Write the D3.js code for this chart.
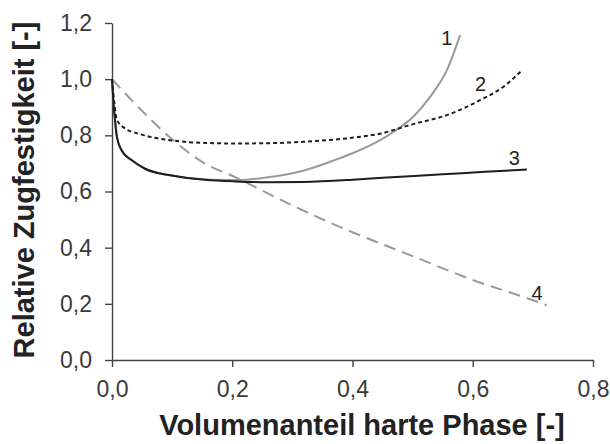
<!DOCTYPE html>
<meta charset="utf-8">
<style>
    body { margin: 0; background: #fff; }
    .axis path, .axis line { stroke: #444; stroke-width: 1.4px; }
    .axis text { font-family: "Liberation Sans", Arial, sans-serif; font-size: 23px; fill: #3a3a3a; }
    .title { font-family: "Liberation Sans", Arial, sans-serif; font-size: 29px; font-weight: bold; fill: #222; }
    .lbl { font-family: "Liberation Sans", Arial, sans-serif; font-size: 20px; fill: #222; }
</style>
<svg width="610" height="444"></svg>
<script src="https://d3js.org/d3.v7.min.js"></script>
<script>

    // x = Volumenanteil harte Phase, y = relative Zugfestigkeit
    var curve1 = [[0,1.0],[0.002,0.93],[0.005,0.855],[0.008,0.8],[0.016,0.748],[0.033,0.711],[0.055,0.681],[0.099,0.657],[0.155,0.643],[0.213,0.641],[0.25,0.648],[0.313,0.671],[0.368,0.71],[0.402,0.738],[0.446,0.783],[0.468,0.812],[0.501,0.866],[0.529,0.937],[0.557,1.032],[0.579,1.157]];
    var curve2 = [[0,1.0],[0.004,0.913],[0.008,0.856],[0.022,0.824],[0.044,0.806],[0.099,0.782],[0.155,0.773],[0.205,0.771],[0.26,0.772],[0.318,0.777],[0.402,0.792],[0.446,0.806],[0.501,0.84],[0.557,0.872],[0.612,0.925],[0.651,0.973],[0.682,1.032]];
    var curve3 = [[0,1.0],[0.002,0.93],[0.005,0.855],[0.008,0.795],[0.016,0.746],[0.033,0.711],[0.055,0.681],[0.099,0.657],[0.155,0.642],[0.205,0.636],[0.26,0.633],[0.318,0.634],[0.4,0.642],[0.457,0.65],[0.55,0.661],[0.62,0.67],[0.69,0.678]];
    var curve4 = [[0,1.0],[0.044,0.9],[0.099,0.788],[0.155,0.699],[0.205,0.651],[0.3,0.55],[0.4,0.455],[0.5,0.37],[0.6,0.285],[0.7,0.213],[0.723,0.195]];

    var curveNames = ["1", "2", "3", "4"];
    var labelPos = [[0.557,1.146],[0.613,0.983],[0.669,0.718],[0.707,0.24]];

    var xTicks = [0, 0.2, 0.4, 0.6, 0.8];
    var yTicks = [0, 0.2, 0.4, 0.6, 0.8, 1.0, 1.2];

    var svg = d3.select("svg");

    var x = d3.scaleLinear().domain([0, 0.8]).range([112, 593]);
    var y = d3.scaleLinear().domain([0, 1.2]).range([360, 23]);

    var de = d3.formatLocale({decimal: ",", thousands: ".", grouping: [3], currency: ["", " €"]});
    var fmt = de.format(".1f");

    svg.append("g")
        .attr("class", "axis")
        .attr("transform", "translate(0," + y(0) + ")")
        .call(d3.axisBottom(x).tickValues(xTicks).tickFormat(fmt).tickSize(7).tickSizeOuter(0).tickPadding(14));

    svg.append("g")
        .attr("class", "axis")
        .attr("transform", "translate(" + x(0) + ",0)")
        .call(d3.axisLeft(y).tickValues(yTicks).tickFormat(fmt).tickSize(7).tickSizeOuter(0).tickPadding(13));

    var line = d3.line()
        .x(function(d) { return x(d[0]); })
        .y(function(d) { return y(d[1]); })
        .curve(d3.curveMonotoneX);

    var styles = [
        {data: curve1, color: "#9a9a9a", dash: null},
        {data: curve2, color: "#1e1e1e", dash: "4,3"},
        {data: curve3, color: "#1e1e1e", dash: null},
        {data: curve4, color: "#9a9a9a", dash: "12,7"}
    ];

    // draw 4 first so the solid ones sit on top
    [3, 0, 1, 2].forEach(function(i) {
        var s = styles[i];
        svg.append("path")
            .datum(s.data)
            .attr("fill", "none")
            .attr("stroke", s.color)
            .attr("stroke-width", 2)
            .attr("stroke-dasharray", s.dash)
            .attr("d", line);
    });

    svg.selectAll(".lbl")
        .data(curveNames)
        .enter().append("text")
        .attr("class", "lbl")
        .attr("x", function(d, i) { return x(labelPos[i][0]); })
        .attr("y", function(d, i) { return y(labelPos[i][1]); })
        .attr("dy", "0.35em")
        .attr("text-anchor", "middle")
        .text(function(d) { return d; });

    svg.append("text")
        .attr("class", "title")
        .attr("text-anchor", "middle")
        .attr("x", 362)
        .attr("y", 435)
        .text("Volumenanteil harte Phase [-]");

    svg.append("text")
        .attr("class", "title")
        .attr("text-anchor", "middle")
        .attr("transform", "translate(34,190) rotate(-90)")
        .text("Relative Zugfestigkeit [-]");

</script>
